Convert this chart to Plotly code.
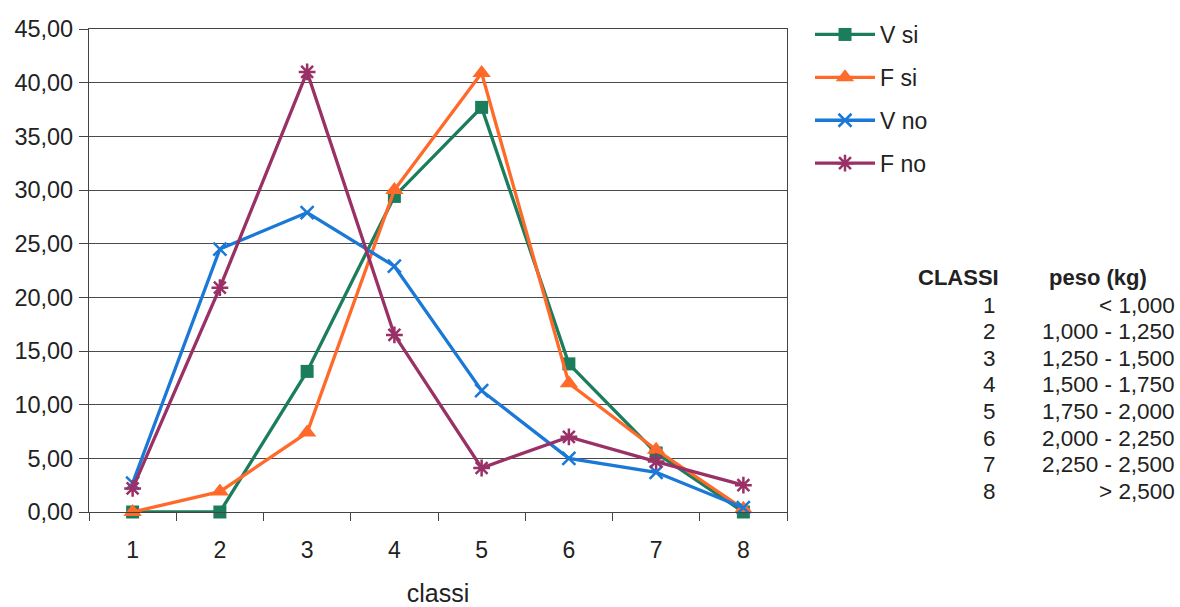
import plotly.graph_objects as go

classi = ["1", "2", "3", "4", "5", "6", "7", "8"]
v_si = [0.0, 0.0, 13.1, 29.4, 37.7, 13.8, 5.5, 0.0]
f_si = [0.0, 1.9, 7.4, 30.0, 40.9, 12.0, 5.8, 0.3]
v_no = [2.7, 24.5, 27.9, 22.9, 11.3, 5.0, 3.7, 0.4]
f_no = [2.2, 20.9, 41.0, 16.5, 4.1, 7.0, 4.7, 2.5]
y_ticks = [0, 5, 10, 15, 20, 25, 30, 35, 40, 45]
y_tick_labels = ["0,00", "5,00", "10,00", "15,00", "20,00", "25,00", "30,00", "35,00", "40,00", "45,00"]
peso = ["< 1,000", "1,000 - 1,250", "1,250 - 1,500", "1,500 - 1,750",
        "1,750 - 2,000", "2,000 - 2,250", "2,250 - 2,500", "> 2,500"]

FONT = "Liberation Sans, Arial, sans-serif"
TXT = "#222222"

series = [
    ("V si", v_si, "#1b7d5c", dict(symbol="square", size=13)),
    ("F si", f_si, "#ff6a2a", dict(symbol="triangle-up", size=16)),
    ("V no", v_no, "#1a78d6", dict(symbol="x-thin-open", size=13, line=dict(width=2.5))),
    ("F no", f_no, "#993066", dict(symbol="asterisk-open", size=14, line=dict(width=2.5))),
]

fig = go.Figure()
for name, vals, col, mk in series:
    m = dict(color=col, **mk)
    if "line" in m:
        m["line"] = dict(color=col, width=mk["line"]["width"])
    fig.add_trace(go.Scatter(
        x=classi, y=vals, name=name, mode="lines+markers",
        line=dict(color=col, width=3.3), marker=m, legendgroup=name,
        cliponaxis=False,
    ))

L, R, T, B = 89, 393, 29, 95
W, H = 1180, 607
pw, ph = W - L - R, H - T - B

def px_x(x):
    return (x - L) / pw

def px_y(y):
    return (H - B - y) / ph

annotations = []
annotations.append(dict(text="<b>CLASSI</b>", x=px_x(1001), y=px_y(277), xref="paper", yref="paper",
                        xanchor="right", yanchor="middle", showarrow=False,
                        font=dict(family=FONT, size=22, color=TXT)))
annotations.append(dict(text="<b>peso (kg)</b>", x=px_x(1149), y=px_y(277), xref="paper", yref="paper",
                        xanchor="right", yanchor="middle", showarrow=False,
                        font=dict(family=FONT, size=22, color=TXT)))
for i, (c, p) in enumerate(zip(classi, peso)):
    yy = 305 + i * 26.6
    annotations.append(dict(text=c, x=px_x(998), y=px_y(yy), xref="paper", yref="paper",
                            xanchor="right", yanchor="middle", showarrow=False,
                            font=dict(family=FONT, size=22.5, color=TXT)))
    annotations.append(dict(text=p, x=px_x(1177), y=px_y(yy), xref="paper", yref="paper",
                            xanchor="right", yanchor="middle", showarrow=False,
                            font=dict(family=FONT, size=22.5, color=TXT)))

fig.update_layout(
    width=W, height=H,
    margin=dict(l=L, r=R, t=T, b=B, autoexpand=False),
    paper_bgcolor="white", plot_bgcolor="white",
    font=dict(family=FONT, size=23, color=TXT),
    showlegend=True,
    legend=dict(x=px_x(810), y=px_y(13), xanchor="left", yanchor="top",
                font=dict(family=FONT, size=23, color=TXT),
                itemwidth=60, tracegroupgap=10, bgcolor="rgba(0,0,0,0)"),
    annotations=annotations,
)
fig.update_xaxes(
    type="category", tickson="boundaries", ticks="outside", ticklen=8, tickcolor="#444",
    showline=True, linecolor="#444", linewidth=1.2, mirror=True,
    showgrid=False, zeroline=False,
    tickfont=dict(family=FONT, size=23, color=TXT), ticklabelstandoff=17,
    title=dict(text="classi", font=dict(family=FONT, size=25, color=TXT), standoff=24),
    range=[-0.5, 7.5],
)
fig.update_yaxes(
    range=[0, 45], tickvals=y_ticks, ticktext=y_tick_labels,
    ticks="outside", ticklen=9, tickcolor="#444",
    showline=True, linecolor="#444", linewidth=1.2, mirror=True,
    showgrid=True, gridcolor="#4a4a4a", gridwidth=1, zeroline=False,
    tickfont=dict(family=FONT, size=23.5, color=TXT), ticklabelstandoff=1,
)

fig.write_html("out.html")
